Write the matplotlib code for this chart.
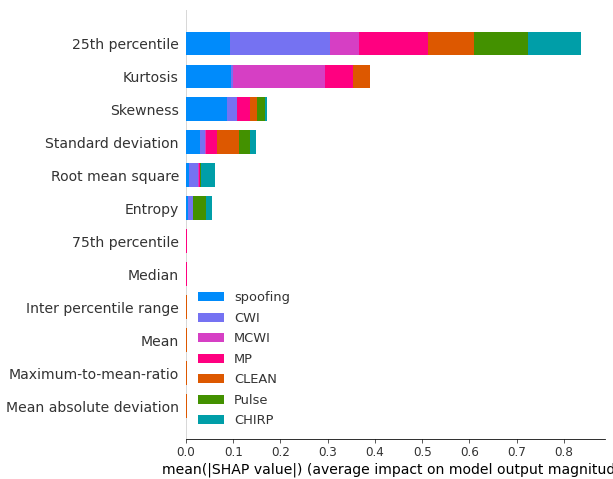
import matplotlib.pyplot as plt
import numpy as np

features = ["25th percentile", "Kurtosis", "Skewness", "Standard deviation",
            "Root mean square", "Entropy", "75th percentile", "Median",
            "Inter percentile range", "Mean", "Maximum-to-mean-ratio",
            "Mean absolute deviation"]
classes = ["spoofing", "CWI", "MCWI", "MP", "CLEAN", "Pulse", "CHIRP"]
colors = ["#008bfb", "#7572f2", "#d63fc4", "#ff0080", "#dd5800", "#439100", "#009ea8"]

# mean |SHAP| per feature, one list per class
spoofing = [0.093, 0.095, 0.087, 0.030, 0.007, 0.004, 0.0, 0.0, 0.0, 0.0, 0.0, 0.0]
cwi = [0.212, 0.005, 0.020, 0.011, 0.019, 0.011, 0.0, 0.0, 0.0, 0.0, 0.0, 0.0]
mcwi = [0.061, 0.194, 0.001, 0.001, 0.002, 0.0, 0.001, 0.001, 0.0, 0.0, 0.0, 0.0]
mp = [0.146, 0.059, 0.027, 0.023, 0.001, 0.0, 0.0008, 0.0008, 0.0, 0.0, 0.0, 0.0]
clean = [0.097, 0.036, 0.016, 0.048, 0.0, 0.0, 0.0, 0.0, 0.0015, 0.0015, 0.0015, 0.0015]
pulse = [0.116, 0.0, 0.016, 0.023, 0.003, 0.028, 0.0, 0.0, 0.0, 0.0, 0.0, 0.0]
chirp = [0.112, 0.0, 0.005, 0.012, 0.030, 0.013, 0.0, 0.0, 0.0, 0.0, 0.0, 0.0]
values = [spoofing, cwi, mcwi, mp, clean, pulse, chirp]

axis_color = "#333333"
fig = plt.figure(figsize=(613 / 72, 479 / 72), dpi=72)
ax = fig.add_axes([0.3034, 0.0835, 0.6836, 0.8955])

n = len(features)
y_pos = np.arange(n)[::-1]
left = np.zeros(n)
for name, vals, c in zip(classes, values, colors):
    vals = np.array(vals)
    ax.barh(y_pos, vals, 0.7, left=left, align="center", color=c, label=name)
    left += vals

ax.axvline(0, color="#cccccc", linewidth=1.5, zorder=-1)
ax.set_ylim(-1, n)
ax.set_xlim(0, 0.887)
ax.set_yticks(y_pos)
ax.set_yticklabels(features, fontsize=14)
ax.set_xticks(np.arange(0, 0.81, 0.1))
ax.tick_params(axis="x", labelsize=12, color=axis_color, labelcolor=axis_color)
ax.tick_params(axis="y", length=0, pad=7, labelcolor=axis_color)
ax.spines["right"].set_visible(False)
ax.spines["top"].set_visible(False)
ax.spines["left"].set_visible(False)
ax.set_xlabel("mean(|SHAP value|) (average impact on model output magnitude)",
              fontsize=14, color="#000000", labelpad=3)
leg = ax.legend(frameon=False, fontsize=13, loc="lower left", labelspacing=0.58)
for t in leg.get_texts():
    t.set_color(axis_color)

fig.savefig("out.png", dpi=72)
